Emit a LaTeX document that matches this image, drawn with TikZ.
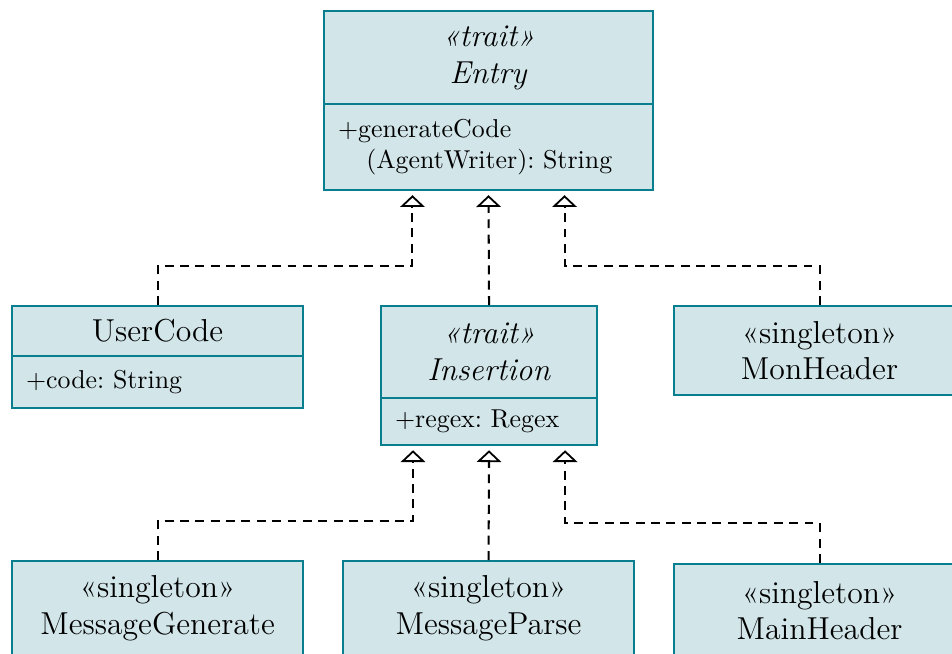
\documentclass[tikz,border=0pt]{standalone}
\usetikzlibrary{arrows.meta}
\definecolor{umlfill}{RGB}{210,230,234}
\definecolor{umlline}{RGB}{8,126,142}
\begin{document}
\frenchspacing
% one unit = one pixel of a 952 x 653 layout, y pointing down
\begin{tikzpicture}[x=0.390625pt, y=-0.390625pt,
  umlhead/.style={draw=umlline, fill=umlfill, line width=0.8pt, anchor=north west,
    align=center, font=\fontsize{12.4}{14.4}\selectfont, inner sep=0pt},
  umlbody/.style={draw=umlline, fill=umlfill, line width=0.8pt, anchor=north west,
    align=left, font=\fontsize{10.1}{12.3}\selectfont, inner xsep=5.5pt, inner ysep=0pt},
  realize/.style={draw=black, line width=0.8pt, dash pattern=on 3.5pt off 2.5pt,
    -{Triangle[open, length=4.6pt, width=9.6pt, line width=0.7pt]}},
]
\useasboundingbox (0,0) rectangle (952,653);
\clip (0,0) rectangle (952,653);

% Entry trait
\node[umlhead, minimum width=128.5pt, minimum height=36.3pt] (entry) at (323,10)
  {\textit{«trait»}\\ \textit{Entry}};
\node[umlbody, text width=117.5pt, minimum height=33.6pt] (entrybody) at (323,103)
  {+generateCode\\ \hspace*{11pt}(AgentWriter): String};

% UserCode class
\node[umlhead, minimum width=113.7pt, minimum height=19.5pt] (usercode) at (11,305) {UserCode};
\node[umlbody, text width=102.7pt, minimum height=20.3pt] (usercodebody) at (11,355) {+code: String};

% Insertion trait
\node[umlhead, minimum width=84.4pt, minimum height=35.9pt] (insertion) at (380,305)
  {\textit{«trait»}\\ \textit{Insertion}};
\node[umlbody, text width=73.4pt, minimum height=18.4pt] (insertionbody) at (380,397) {+regex: Regex};

% MonHeader singleton
\node[umlhead, minimum width=113.7pt, minimum height=34.8pt] (monheader) at (673,305)
  {«singleton»\\ MonHeader};

% bottom row singletons
\node[umlhead, minimum width=113.7pt, minimum height=37.1pt] (msggen) at (11,560)
  {«singleton»\\ MessageGenerate};
\node[umlhead, minimum width=113.7pt, minimum height=37.1pt] (msgparse) at (342,560)
  {«singleton»\\ MessageParse};
\node[umlhead, minimum width=113.7pt, minimum height=36.4pt] (mainheader) at (673,563)
  {«singleton»\\ MainHeader};

% realizations of Entry
\draw[realize] (usercode.north) -- ++(0,-39) -| ([xshift=-29.7pt, yshift=-1.6pt]entrybody.south);
\draw[realize] (insertion.north) -- ([yshift=-1.6pt]entrybody.south);
\draw[realize] (monheader.north) -- ++(0,-39) -| ([xshift=29.7pt, yshift=-1.6pt]entrybody.south);

% realizations of Insertion
\draw[realize] (msggen.north) -- ++(0,-39) -| ([xshift=-29.7pt, yshift=-1.6pt]insertionbody.south);
\draw[realize] (msgparse.north) -- ([yshift=-1.6pt]insertionbody.south);
\draw[realize] (mainheader.north) -- ++(0,-40) -| ([xshift=29.7pt, yshift=-1.6pt]insertionbody.south);
\end{tikzpicture}
\end{document}
